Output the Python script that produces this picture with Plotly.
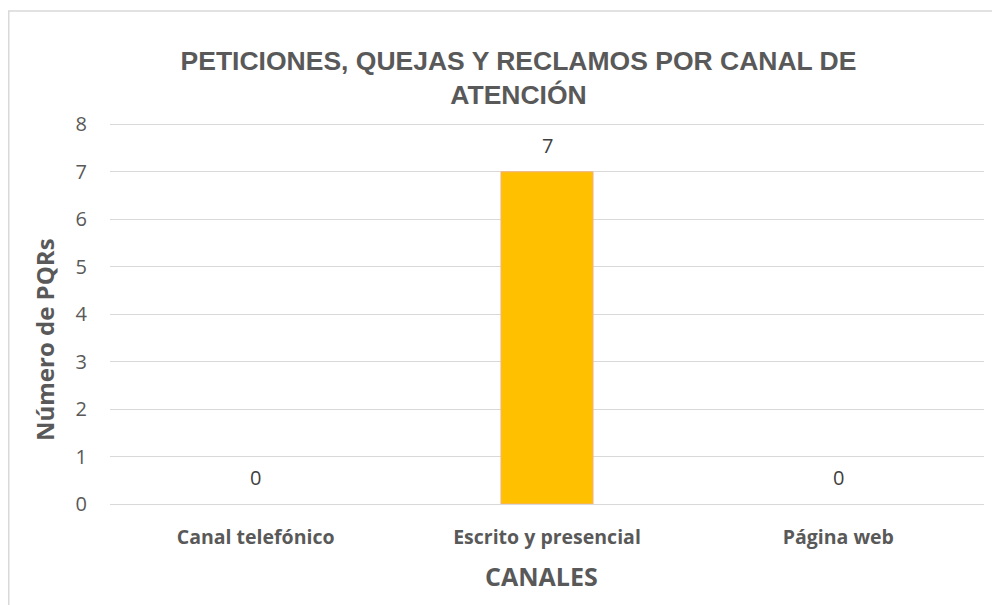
import plotly.graph_objects as go

categories = ["Canal telefónico", "Escrito y presencial", "Página web"]
values = [0, 7, 0]
y_ticks = [0, 1, 2, 3, 4, 5, 6, 7, 8]
title_text = "PETICIONES, QUEJAS Y RECLAMOS POR CANAL DE<br>ATENCIÓN"
x_title = "CANALES"
y_title = "Número de PQRs"

# page is shown with an 8px body margin; work in page coordinates
OFF = 8
Y_TOP = 8.05
W, H = 1000 - OFF, 605 - OFF
L, R, B = 110 - OFF, 16, 101
unit = (504 - 124) / 8.0
T = round(124 - OFF - (Y_TOP - 8) * unit)
pw, ph = W - L - R, H - T - B

def px_x(x):
    return (x - OFF - L) / pw

def px_y(y):
    return (H - B - (y - OFF)) / ph

fig = go.Figure()
fig.add_trace(go.Bar(
    x=categories, y=values,
    marker=dict(color="#FFC000",
                line=dict(color="#F4B183", width=[1 if v > 0 else 0 for v in values])),
    width=0.316,
    hoverinfo="x+y",
))

annotations = []
for c, v in zip(categories, values):
    annotations.append(dict(
        x=c, y=v, xref="x", yref="y", text=str(v), showarrow=False,
        yanchor="bottom", yshift=11,
        font=dict(family="Open Sans", size=20, color="#404040"),
    ))
annotations.append(dict(
    x=px_x(44), y=px_y(340), xref="paper", yref="paper", text=f"<b>{y_title}</b>",
    showarrow=False, textangle=-90, xanchor="center", yanchor="middle",
    font=dict(family="Open Sans", size=24, color="#595959"),
))
annotations.append(dict(
    x=px_x(541), y=px_y(576), xref="paper", yref="paper", text=f"<b>{x_title}</b>",
    showarrow=False, xanchor="center", yanchor="middle",
    font=dict(family="Open Sans", size=25, color="#595959"),
))

fig.update_layout(
    width=W, height=H,
    margin=dict(l=L, r=R, t=T, b=B, autoexpand=False),
    paper_bgcolor="white", plot_bgcolor="white",
    showlegend=False,
    title=dict(
        text=f"<b>{title_text}</b>",
        x=(518.5 - OFF) / W, xanchor="center", xref="container",
        y=1 - (70 - OFF) / H, yanchor="middle", yref="container",
        font=dict(family="Liberation Sans", size=26.5, color="#595959"),
    ),
    annotations=annotations,
    shapes=[dict(
        type="rect", xref="paper", yref="paper",
        x0=px_x(OFF + 0.75), x1=px_x(1020), y0=px_y(640), y1=px_y(11),
        line=dict(color="#D9D9D9", width=1.5), fillcolor="rgba(0,0,0,0)",
        layer="below",
    )],
)

fig.update_xaxes(
    showgrid=False, showline=False, zeroline=False,
    tickfont=dict(family="Open Sans", size=19.5, color="#595959", weight="bold"),
    ticklabelstandoff=19,
)
fig.update_yaxes(
    range=[0, Y_TOP], tickvals=y_ticks, showgrid=True, gridcolor="#D9D9D9", gridwidth=1,
    zeroline=True, zerolinecolor="#D9D9D9", zerolinewidth=1, showline=False,
    tickfont=dict(family="Open Sans", size=20, color="#595959"),
    ticklabelstandoff=22,
)

fig.write_html("out.html")
